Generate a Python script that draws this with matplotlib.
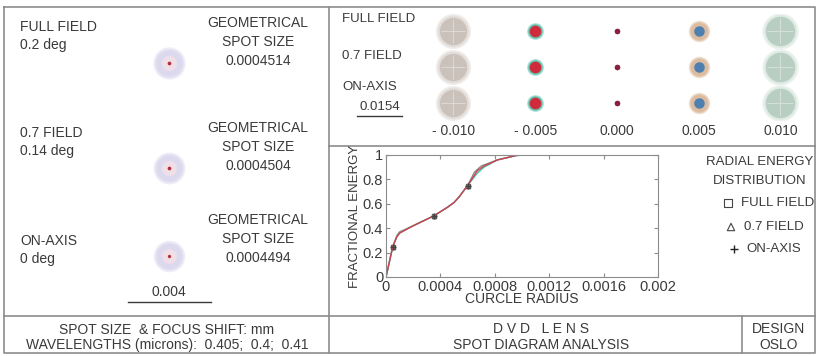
import matplotlib.pyplot as plt

plt.rcParams['font.family'] = ['Liberation Sans', 'DejaVu Sans']

W, H = 817, 356
TXT = '#3a3a3a'
LINE = '#8c8c8c'

# ---- best focus spots (left panel)
field_names = ["FULL FIELD", "0.7 FIELD", "ON-AXIS"]
field_angles = ["0.2 deg", "0.14 deg", "0 deg"]
geo_spot_size = ["0.0004514", "0.0004504", "0.0004494"]
spot_outer_mm = [0.00078, 0.00077, 0.00076]
spot_inner_mm = [0.00036, 0.00036, 0.00035]
spot_core_mm = [0.00009, 0.00009, 0.00008]
spot_scale_mm = 0.004

# ---- through focus spots (right top)
focus_shift = [-0.010, -0.005, 0.000, 0.005, 0.010]
focus_labels = ["- 0.010", "- 0.005", "0.000", "0.005", "0.010"]
tf_outer_mm = [0.0054, 0.0026, 0.0009, 0.0033, 0.0056]
tf_inner_mm = [0.0046, 0.0020, 0.0009, 0.0018, 0.0050]
tf_scale_mm = 0.0154

# ---- radial energy
r_full = [0, 0.00005, 0.00008, 0.0001, 0.0002, 0.00035, 0.00045, 0.0005, 0.00054, 0.0006, 0.00065, 0.0007, 0.00082, 0.00096, 0.00102]
e_full = [0, 0.25, 0.34, 0.37, 0.42, 0.50, 0.57, 0.61, 0.66, 0.75, 0.86, 0.91, 0.96, 0.995, 1.0]
r_07 = [0, 0.00005, 0.00008, 0.0001, 0.0002, 0.00035, 0.00045, 0.0005, 0.00054, 0.0006, 0.00067, 0.00072, 0.00082, 0.00096, 0.00107]
e_07 = [0, 0.25, 0.33, 0.36, 0.42, 0.50, 0.57, 0.61, 0.66, 0.75, 0.85, 0.90, 0.96, 0.997, 1.0]
r_axis = [0, 0.00005, 0.00008, 0.0001, 0.0002, 0.00035, 0.00045, 0.0005, 0.00054, 0.0006, 0.00067, 0.00072, 0.00082, 0.00096, 0.001]
e_axis = [0, 0.25, 0.33, 0.36, 0.42, 0.50, 0.57, 0.61, 0.66, 0.75, 0.87, 0.91, 0.96, 0.997, 1.0]
energy_ticks = [0, 0.2, 0.4, 0.6, 0.8, 1]
energy_tick_labels = ["0", "0.2", "0.4", "0.6", "0.8", "1"]
radius_ticks = [0, 0.0004, 0.0008, 0.0012, 0.0016, 0.002]
radius_tick_labels = ["0", "0.0004", "0.0008", "0.0012", "0.0016", "0.002"]


def px_size(r_px):
    # scatter size (pt^2) for a disk of radius r_px pixels
    return (2 * r_px * 72 / 100) ** 2


def soft_spot(axis, x, y, r_px, color, z=3):
    # fuzzy edge: a few stacked disks, outermost most transparent
    for k, a in [(1.0, 0.45), (0.9, 0.6), (0.8, 1.0)]:
        axis.scatter(x, y, s=px_size(r_px * k), color=color, alpha=a, lw=0, zorder=z)


fig = plt.figure(figsize=(W / 100, H / 100), dpi=100)

# overlay in pixel coordinates
ax = fig.add_axes([0, 0, 1, 1])
ax.set_xlim(0, W)
ax.set_ylim(H, 0)
ax.axis('off')

# frame lines
ax.plot([4, 815, 815, 4, 4], [7, 7, 353, 353, 7], color=LINE, lw=1.2)
ax.plot([329, 329], [7, 353], color=LINE, lw=1.2)
ax.plot([329, 815], [146, 146], color=LINE, lw=1.2)
ax.plot([4, 815], [316, 316], color=LINE, lw=1.2)
ax.plot([742, 742], [316, 353], color=LINE, lw=1.2)

fs = 10
# left panel
name_y = [27, 133, 241]
geo_y = [23, 128, 220]
spot_y = [63, 168, 256]
left_scale = 83 / spot_scale_mm
for i in range(3):
    ax.text(20, name_y[i], field_names[i], fontsize=fs, color=TXT, va='center')
    ax.text(20, name_y[i] + 18, field_angles[i], fontsize=fs, color=TXT, va='center')
    ax.text(258, geo_y[i], "GEOMETRICAL", fontsize=fs, color=TXT, va='center', ha='center')
    ax.text(258, geo_y[i] + 19, "SPOT SIZE", fontsize=fs, color=TXT, va='center', ha='center')
    ax.text(258, geo_y[i] + 38, geo_spot_size[i], fontsize=fs, color=TXT, va='center', ha='center')
    soft_spot(ax, 169, spot_y[i], spot_outer_mm[i] * left_scale, '#dcd9ee')
    ax.scatter(169, spot_y[i], s=px_size(spot_inner_mm[i] * left_scale), color='#f1dfe8', lw=0, zorder=4)
    ax.scatter(169, spot_y[i], s=px_size(spot_core_mm[i] * left_scale), color='#b03040', lw=0, zorder=5)

ax.text(169, 292, "0.004", fontsize=fs, color=TXT, va='center', ha='center')
ax.plot([128, 211], [302, 302], color=TXT, lw=1)

# right top labels
ax.text(342, 19, "FULL FIELD", fontsize=9.5, color=TXT, va='center')
ax.text(342, 56, "0.7 FIELD", fontsize=9.5, color=TXT, va='center')
ax.text(342, 87, "ON-AXIS", fontsize=9.5, color=TXT, va='center')
ax.text(380, 107, "0.0154", fontsize=9.5, color=TXT, va='center', ha='center')
ax.plot([357, 402], [116, 116], color=TXT, lw=1)

# through-focus spots
row_px = [31, 67, 103]
x0_px, dx = 617, 16350.0
ax_tf = fig.add_axes([400 / W, 1 - 120 / H, 415 / W, 106 / H])
ax_tf.set_xlim((400 - x0_px) / dx, (815 - x0_px) / dx)
ax_tf.set_ylim((120 - row_px[0]) / 36, (14 - row_px[0]) / 36)
ax_tf.patch.set_alpha(0)
for s in ax_tf.spines.values():
    s.set_visible(False)
ax_tf.set_yticks([])
ax_tf.set_xticks(focus_shift, focus_labels)
ax_tf.tick_params(axis='x', length=0, pad=3, labelsize=10, labelcolor=TXT)
outer_col = ['#ddd5d0', '#5cc5ae', '#8a2040', '#dcbc9f', '#d3e3da']
inner_col = ['#cbc1bb', '#d02b3c', '#8a2040', '#4d80b0', '#b8cec2']
tf_scale = 45 / tf_scale_mm
for row in range(3):
    for j, f in enumerate(focus_shift):
        soft_spot(ax_tf, f, row, tf_outer_mm[j] * tf_scale / 0.9, outer_col[j])
        ax_tf.scatter(f, row, s=px_size(tf_inner_mm[j] * tf_scale), color=inner_col[j], lw=0, zorder=4)
        if tf_inner_mm[j] > 0.004:
            ax_tf.scatter(f, row, marker='+', s=px_size(tf_inner_mm[j] * tf_scale * 0.9),
                          color='white', alpha=0.45, lw=0.6, zorder=5)

# radial energy plot
ax_e = fig.add_axes([386 / W, 1 - 277 / H, 272 / W, 122 / H])
ax_e.plot(r_full, e_full, color='#909090', lw=1, marker='s', ms=3, mfc='none', mec='#555555', markevery=[1, 5, 9])
ax_e.plot(r_07, e_07, color='#40c0a0', lw=1, marker='^', ms=3, mfc='none', mec='#555555', markevery=[1, 5, 9])
ax_e.plot(r_axis, e_axis, color='#d04050', lw=1, marker='+', ms=4, mec='#444444', markevery=[1, 5, 9])
ax_e.set_xlim(0, 0.002)
ax_e.set_ylim(0, 1)
ax_e.set_xticks(radius_ticks, radius_tick_labels)
ax_e.set_yticks(energy_ticks, energy_tick_labels)
ax_e.tick_params(direction='in', length=3, color=LINE, labelsize=10.5, labelcolor=TXT,
                 top=True, right=True, pad=2)
for s in ax_e.spines.values():
    s.set_color(LINE)
ax_e.set_xlabel("CURCLE RADIUS", fontsize=10, color=TXT, labelpad=-1)
ax_e.set_ylabel("FRACTIONAL ENERGY", fontsize=9.5, color=TXT, labelpad=1)

# legend text
ax.text(760, 162, "RADIAL ENERGY", fontsize=9.5, color=TXT, va='center', ha='center')
ax.text(760, 181, "DISTRIBUTION", fontsize=9.5, color=TXT, va='center', ha='center')
ax.scatter([728], [203], marker='s', s=28, facecolor='none', edgecolor='#444444', lw=0.8)
ax.scatter([731], [227], marker='^', s=28, facecolor='none', edgecolor='#444444', lw=0.8)
ax.scatter([734], [249], marker='+', s=40, color='#222222', lw=1)
ax.text(741, 203, "FULL FIELD", fontsize=9.5, color=TXT, va='center')
ax.text(744, 227, "0.7 FIELD", fontsize=9.5, color=TXT, va='center')
ax.text(746, 249, "ON-AXIS", fontsize=9.5, color=TXT, va='center')

# title block
ax.text(167, 330, "SPOT SIZE  & FOCUS SHIFT: mm", fontsize=fs, color=TXT, va='center', ha='center')
ax.text(167, 345, "WAVELENGTHS (microns):  0.405;  0.4;  0.41", fontsize=fs, color=TXT, va='center', ha='center')
ax.text(541, 329, "D V D   L E N S", fontsize=fs, color=TXT, va='center', ha='center')
ax.text(541, 345, "SPOT DIAGRAM ANALYSIS", fontsize=fs, color=TXT, va='center', ha='center')
ax.text(779, 329, "DESIGN", fontsize=fs, color=TXT, va='center', ha='center')
ax.text(779, 345, "OSLO", fontsize=fs, color=TXT, va='center', ha='center')

fig.savefig('out.png', dpi=100)
